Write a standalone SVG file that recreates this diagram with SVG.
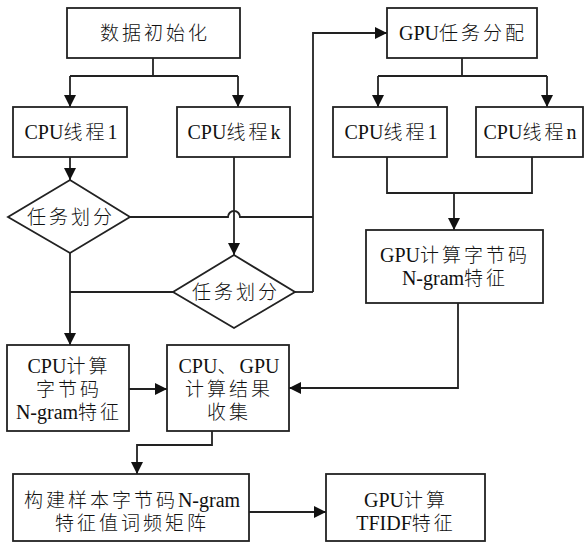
<svg xmlns="http://www.w3.org/2000/svg" width="586" height="547" viewBox="0 0 586 547">
<defs>
<marker id="ar" markerWidth="12" markerHeight="12" viewBox="0 0 12 12" refX="12" refY="6" orient="auto" markerUnits="userSpaceOnUse">
<path d="M0,0 L12,6 L0,12 Z" fill="#111"/>
</marker>
<style>
.b{fill:#fff;stroke:#222;stroke-width:1.8}
.l{fill:none;stroke:#222;stroke-width:1.8}
.a{fill:none;stroke:#222;stroke-width:1.8;marker-end:url(#ar)}
text{font-family:"Liberation Serif","Noto Sans CJK SC",serif;font-size:19px;font-weight:300;fill:#111;text-anchor:middle;dominant-baseline:central;letter-spacing:3px}
.e{letter-spacing:0;font-size:20px;font-weight:400}
</style>
</defs>
<rect width="586" height="547" fill="#fff"/>
<g id="connectors">
<polyline class="l" points="153,58 153,76"/>
<polyline class="l" points="70,76 238,76"/>
<polyline class="a" points="70,76 70,107"/>
<polyline class="a" points="238,76 238,107"/>
<polyline class="a" points="70,157 70,180"/>
<path class="l" d="M130,217 H228 A6,6 0 0 1 240,217 H313"/>
<polyline class="a" points="234,157 234,255"/>
<polyline class="a" points="313,292 313,33 387,33"/>
<polyline class="l" points="295,292 313,292"/>
<polyline class="l" points="173,292 70,292"/>
<polyline class="a" points="70,253 70,345"/>
<polyline class="l" points="462,58 462,76"/>
<polyline class="l" points="378,76 547,76"/>
<polyline class="a" points="378,76 378,107"/>
<polyline class="a" points="547,76 547,107"/>
<polyline class="l" points="387,157 387,193 532,193 532,157"/>
<polyline class="a" points="454,193 454,230"/>
<polyline class="a" points="458,303 458,388 289,388"/>
<polyline class="a" points="129,389 167,389"/>
<polyline class="a" points="212,431 212,445 137,445 137,474"/>
<polyline class="a" points="249,512 326,512"/>
</g>
<g id="init"><rect class="b" x="67" y="8" width="173" height="50"/><text x="155" y="33">数据初始化</text></g>
<g id="cpu1"><rect class="b" x="13" y="107" width="114" height="50"/><text x="71" y="132"><tspan class="e">CPU</tspan>线程<tspan class="e">1</tspan></text></g>
<g id="cpuk"><rect class="b" x="177" y="107" width="113" height="50"/><text x="234" y="132"><tspan class="e">CPU</tspan>线程<tspan class="e">k</tspan></text></g>
<g id="gpuassign"><rect class="b" x="387" y="8" width="150" height="50"/><text x="463" y="33"><tspan class="e">GPU</tspan>任务分配</text></g>
<g id="gcpu1"><rect class="b" x="333" y="107" width="114" height="50"/><text x="391" y="132"><tspan class="e">CPU</tspan>线程<tspan class="e">1</tspan></text></g>
<g id="gcpun"><rect class="b" x="476" y="107" width="107" height="50"/><text x="530" y="132"><tspan class="e">CPU</tspan>线程<tspan class="e">n</tspan></text></g>
<g id="div1"><polygon class="b" points="70,180 130,217 70,253 8,217"/><text x="71" y="217">任务划分</text></g>
<g id="div2"><polygon class="b" points="234,255 295,292 234,328 173,292"/><text x="236" y="292">任务划分</text></g>
<g id="gpucalc"><rect class="b" x="366" y="230" width="177" height="73"/><text x="455" y="255"><tspan class="e">GPU</tspan>计算字节码</text><text x="455" y="278"><tspan class="e">N-gram</tspan>特征</text></g>
<g id="cpucalc"><rect class="b" x="7" y="345" width="122" height="86"/><text x="69" y="366"><tspan class="e">CPU</tspan>计算</text><text x="69" y="389">字节码</text><text x="69" y="412"><tspan class="e">N-gram</tspan>特征</text></g>
<g id="collect"><rect class="b" x="167" y="345" width="122" height="86"/><text x="229" y="366"><tspan class="e">CPU</tspan>、<tspan class="e">GPU</tspan></text><text x="229" y="389">计算结果</text><text x="229" y="412">收集</text></g>
<g id="build"><rect class="b" x="13" y="474" width="236" height="67"/><text x="132" y="500">构建样本字节码<tspan class="e">N-gram</tspan></text><text x="132" y="523">特征值词频矩阵</text></g>
<g id="tfidf"><rect class="b" x="326" y="474" width="159" height="67"/><text x="406" y="500"><tspan class="e">GPU</tspan>计算</text><text x="406" y="523"><tspan class="e">TFIDF</tspan>特征</text></g>
</svg>
